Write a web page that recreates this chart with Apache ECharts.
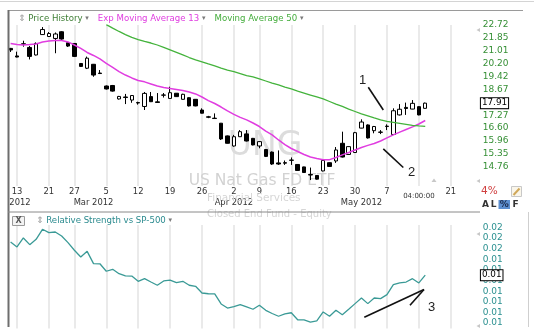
<!DOCTYPE html>
<html><head><meta charset="utf-8">
<script src="https://cdn.jsdelivr.net/npm/echarts@6/dist/echarts.min.js"></script>
<style>html,body{margin:0;padding:0;background:#fff}#chart{width:534px;height:335px}</style>
</head><body><div id="chart"></div><script>
// ---- categories (trading days shown on the axis) ----
const categories = [
'2012-02-09','2012-02-10','2012-02-13','2012-02-14','2012-02-15','2012-02-16','2012-02-17','2012-02-21','2012-02-22','2012-02-23','2012-02-24','2012-02-27','2012-02-28','2012-02-29',
'2012-03-01','2012-03-02','2012-03-05','2012-03-06','2012-03-07','2012-03-08','2012-03-09','2012-03-12','2012-03-13','2012-03-14','2012-03-15','2012-03-16','2012-03-19','2012-03-20','2012-03-21','2012-03-22','2012-03-23','2012-03-26','2012-03-27','2012-03-28','2012-03-29','2012-03-30',
'2012-04-02','2012-04-03','2012-04-04','2012-04-05','2012-04-09','2012-04-10','2012-04-11','2012-04-12','2012-04-13','2012-04-16','2012-04-17','2012-04-18','2012-04-19','2012-04-20','2012-04-23','2012-04-24','2012-04-25','2012-04-26','2012-04-27','2012-04-30',
'2012-05-01','2012-05-02','2012-05-03','2012-05-04','2012-05-07','2012-05-08','2012-05-09','2012-05-10','2012-05-11','2012-05-14','2012-05-15','2012-05-16','2012-05-17','2012-05-18','2012-05-21','2012-05-22','2012-05-23','2012-05-24'];

// ---- tick labels ----
const weekTicks  = ['2012-02-13','2012-02-21','2012-02-27','2012-03-05','2012-03-12','2012-03-19','2012-03-26','2012-04-02','2012-04-09','2012-04-16','2012-04-23','2012-04-30','2012-05-07','2012-05-14','2012-05-21'];
const weekLabels = ['13','21','27','5','12','19','26','2','9','16','23','30','7','04:00:00','21'];
const monthTicks  = ['2012-02-13','2012-03-01','2012-04-02','2012-05-01'];
const monthLabels = ['2012','Mar 2012','Apr 2012','May 2012'];
const priceTickLabels = ['14.76','15.35','15.96','16.60','17.27','17.95','18.67','19.42','20.20','21.01','21.85','22.72'];

// ---- price series (Feb 10 .. May 15, 2012) ----
const openP  = [21.16,20.68,21.46,21.22,20.74,22.07,21.94,21.81,22.26,21.53, 21.48,20.21,19.92,20.16,19.63,18.87,18.90,18.14,18.25,18.08, 17.94,17.73,18.27,17.98,18.35,18.17,18.46,18.12,18.21,18.12, 17.54,17.18,17.11,16.85,16.21,15.72,16.17,16.31,16.09,15.72, 15.55,15.43,14.93,14.94,15.06,14.86,14.75,14.41,14.37,14.57, 14.94,15.02,15.85,15.32,15.41,16.60,16.76,16.47,16.40,16.68, 16.28,17.28,17.68,17.59,17.72,17.63];
const closeP = [21.06,20.61,21.43,20.65,21.48,22.41,22.14,22.11,21.77,21.31, 20.65,20.03,20.54,19.51,19.60,18.70,18.58,18.28,18.22,18.33, 17.92,18.45,17.99,17.95,18.36,18.49,18.27,18.40,17.76,17.76, 17.37,17.16,17.09,16.06,15.85,16.17,16.42,15.96,15.77,15.93, 15.23,14.88,14.88,14.92,15.05,14.59,14.50,14.39,14.21,15.04, 14.77,15.53,15.20,15.69,16.37,16.91,16.11,16.68,16.39,16.70, 17.50,17.58,17.62,17.90,17.28,17.91];
const lowP   = [20.93,20.59,21.27,20.46,20.71,22.04,21.91,20.85,21.71,21.25, 20.61,20.00,19.87,19.41,19.57,18.67,18.55,18.11,17.86,17.93, 17.83,17.54,17.97,17.94,18.22,18.14,18.25,18.11,17.73,17.74, 17.36,17.11,17.07,16.01,15.84,15.69,16.16,15.94,15.75,15.61, 15.20,14.84,14.84,14.84,14.84,14.57,14.48,14.17,14.19,14.55, 14.75,14.93,15.18,15.30,15.39,16.59,16.08,16.34,16.30,16.50, 16.26,17.25,17.28,17.58,17.26,17.62];
const highP  = [21.19,20.95,21.66,21.32,21.55,22.58,22.24,22.21,22.30,21.58, 21.51,20.24,20.64,20.18,19.81,18.90,18.93,18.31,18.42,18.36, 17.99,18.53,18.53,18.47,18.47,18.83,18.47,18.43,18.23,18.13, 17.63,17.23,17.36,16.86,16.23,16.26,16.50,16.50,16.11,15.95, 15.58,15.46,15.51,15.04,15.18,14.88,14.76,14.72,14.39,15.06, 14.95,15.67,16.42,15.70,16.41,17.05,16.79,16.71,16.50,16.79, 17.63,17.86,17.94,18.08,17.74,17.94];
const ema13  = [21.48,21.41,21.38,21.41,21.45,21.58,21.64,21.68,21.68,21.58, 21.38,21.16,20.90,20.71,20.49,20.21,19.97,19.72,19.51,19.34, 19.19,19.11,18.99,18.87,18.78,18.73,18.67,18.61,18.53,18.42, 18.25,18.05,17.89,17.70,17.49,17.31,17.15,17.02,16.86,16.68, 16.45,16.26,16.01,15.79,15.60,15.46,15.32,15.20,15.13,15.08, 15.08,15.18,15.30,15.41,15.53,15.65,15.75,15.84,15.96,16.11, 16.26,16.40,16.53,16.66,16.81,16.99];
const ma50   = [null,null,null,null,null,null,null,null,null,null, null,null,null,null,null,22.75,22.51,22.28,22.07,21.88, 21.74,21.61,21.51,21.38,21.22,21.06,20.90,20.74,20.58,20.43, 20.31,20.18,20.06,19.93,19.81,19.72,19.60,19.48,19.40,19.28, 19.16,19.04,18.93,18.81,18.70,18.58,18.47,18.36,18.25,18.14, 18.00,17.86,17.73,17.59,17.46,17.33,17.23,17.12,17.02,16.94, 16.89,16.84,16.79,16.74,16.71,16.69];
const relStrength = [0.01584,0.01551,0.01610,0.01566,0.01601,0.01667,0.01645,0.01649,0.01623,0.01579, 0.01529,0.01485,0.01522,0.01441,0.01440,0.01391,0.01404,0.01375,0.01360,0.01359, 0.01325,0.01342,0.01320,0.01299,0.01327,0.01332,0.01316,0.01325,0.01299,0.01292, 0.01248,0.01243,0.01242,0.01176,0.01149,0.01159,0.01171,0.01156,0.01141,0.01167, 0.01134,0.01113,0.01095,0.01110,0.01118,0.01072,0.01071,0.01057,0.01064,0.01123, 0.01095,0.01134,0.01105,0.01141,0.01178,0.01215,0.01178,0.01215,0.01211,0.01237, 0.01303,0.01314,0.01320,0.01342,0.01314,0.01365];

// ---- log price scale: axis value = steps of 4% above the first tick ----
const BASE = 14.76, STEP = 1.04;
const k = p => (p == null ? '-' : Math.log(p / BASE) / Math.log(STEP));
const tradeDates = categories.slice(1, 1 + closeP.length);
const candleData = tradeDates.map((d, i) => [d, k(openP[i]), k(closeP[i]), k(lowP[i]), k(highP[i])]);
const lineData = arr => tradeDates.map((d, i) => [d, k(arr[i])]);
const rsData = tradeDates.map((d, i) => [d, relStrength[i]]);
const lastClose = closeP[closeP.length - 1];
const lastRS = relStrength[relStrength.length - 1];

const weekSet = new Set(weekTicks);
const FONT = 'DejaVu Sans';
const RS_STEP = 0.0007;

const chart = echarts.init(document.getElementById('chart'), null, {renderer: 'canvas'});
const splitLine = {show: true, interval: (i, v) => weekSet.has(v), lineStyle: {color: '#e3e3e3', width: 1.5}};
const boxLabel = txt => ({show: true, position: 'end', distance: 11, formatter: () => txt, color: '#000', fontSize: 8.8, fontFamily: FONT,
  backgroundColor: '#fff', borderColor: '#000', borderWidth: 1, padding: [1, 1, 0, 1], opacity: 1});
const hiddenLine = {color: 'rgba(0,0,0,0)', width: 0, opacity: 1};

chart.setOption({
  animation: false,
  backgroundColor: '#fff',
  textStyle: {fontFamily: FONT},
  legend: [
    {left: 12, top: 14, padding: 0, itemWidth: 0, itemHeight: 0, itemGap: 4, selectedMode: false, icon: 'rect',
     data: [{name: 'Price History', textStyle: {color: '#3f7f36'}},
            {name: 'Exp Moving Average 13', textStyle: {color: '#e03de0'}},
            {name: 'Moving Average 50', textStyle: {color: '#44ad3c'}}],
     formatter: n => (n === 'Price History' ? '{ic|⇕} ' : '') + n + ' {tri|▾}',
     textStyle: {fontSize: 8.6, fontFamily: FONT, rich: {ic: {color: '#9a9a9a', fontSize: 9}, tri: {color: '#7a7a7a', fontSize: 7}}}},
    {left: 31, top: 216, padding: 0, itemWidth: 0, itemHeight: 0, selectedMode: false, icon: 'rect',
     data: [{name: 'Relative Strength vs SP-500', textStyle: {color: '#2a8a8e'}}],
     formatter: n => '{ic|⇕} ' + n + ' {tri|▾}',
     textStyle: {fontSize: 8.6, fontFamily: FONT, rich: {ic: {color: '#9a9a9a', fontSize: 9}, tri: {color: '#7a7a7a', fontSize: 7}}}}
  ],
  grid: [
    {left: 4.22, right: 64.1, top: 25, height: 161, containLabel: false, outerBoundsMode: 'none'},
    {left: 4.22, right: 64.1, top: 225.02, height: 103.4, containLabel: false, outerBoundsMode: 'none'}
  ],
  xAxis: [
    {type: 'category', gridIndex: 0, data: categories, boundaryGap: false,
     axisLine: {show: false}, axisTick: {show: false}, splitLine: splitLine,
     axisLabel: {interval: (i, v) => weekSet.has(v), margin: 2, fontSize: 8.4, color: '#333', fontFamily: FONT,
       formatter: v => { const j = weekTicks.indexOf(v); const t = weekLabels[j]; return t.indexOf(':') >= 0 ? '{t|' + t + '}' : t; },
       rich: {t: {fontSize: 7, color: '#333', fontFamily: FONT, padding: [5, 0, 0, 0]}}}},
    {type: 'category', gridIndex: 0, data: categories, boundaryGap: false, position: 'bottom', offset: 11,
     axisLine: {show: false}, axisTick: {show: false}, splitLine: {show: false},
     axisLabel: {interval: (i, v) => monthTicks.indexOf(v) >= 0, margin: 2, fontSize: 8.4, color: '#333', fontFamily: FONT,
       formatter: v => { const j = monthTicks.indexOf(v); return j === 0 ? '{y|' + monthLabels[j] + '}' : monthLabels[j]; },
       rich: {y: {fontSize: 8.4, color: '#333', fontFamily: FONT, padding: [0, 0, 0, 6]}}}},
    {type: 'category', gridIndex: 1, data: categories, boundaryGap: false,
     axisLine: {show: false}, axisTick: {show: false}, axisLabel: {show: false}, splitLine: splitLine}
  ],
  yAxis: [
    {type: 'value', gridIndex: 0, position: 'right', min: -1.5, max: 11, interval: 0.5, scale: true,
     axisLine: {show: false}, axisTick: {show: false}, splitLine: {show: false},
     axisLabel: {margin: 12.8, fontSize: 9, color: '#358f35', fontFamily: FONT,
       formatter: v => { const r = Math.round(v); return (Math.abs(v - r) < 1e-6 && r >= 0 && r < priceTickLabels.length) ? priceTickLabels[r] : ''; }}},
    {type: 'value', gridIndex: 1, position: 'right', min: 0.01015, max: 0.01695, interval: 0.00035, scale: true,
     axisLine: {show: false}, axisTick: {show: false}, splitLine: {show: false},
     axisLabel: {margin: 12.8, fontSize: 9, color: '#2b9090', fontFamily: FONT,
       formatter: v => { const q = v / RS_STEP; return Math.abs(q - Math.round(q)) < 1e-4 ? v.toFixed(2) : ''; }}}
  ],
  series: [
    {name: 'Price History', type: 'candlestick', xAxisIndex: 0, yAxisIndex: 0, z: 3, barWidth: 4,
     encode: {x: 0, y: [1, 2, 3, 4]}, data: candleData,
     itemStyle: {color: '#ffffff', color0: '#000000', borderColor: '#000000', borderColor0: '#000000', borderWidth: 1},
     markLine: {silent: true, symbol: 'none', animation: false, z: 10, precision: 8, lineStyle: hiddenLine,
       label: boxLabel(lastClose.toFixed(2)), data: [{yAxis: k(lastClose)}]}},
    {name: 'Exp Moving Average 13', type: 'line', xAxisIndex: 0, yAxisIndex: 0, z: 4, data: lineData(ema13),
     showSymbol: false, symbol: 'none', lineStyle: {color: '#e03de0', width: 1.5}, itemStyle: {color: '#e03de0'}},
    {name: 'Moving Average 50', type: 'line', xAxisIndex: 0, yAxisIndex: 0, z: 4, data: lineData(ma50),
     showSymbol: false, symbol: 'none', lineStyle: {color: '#44b33c', width: 1.3}, itemStyle: {color: '#44b33c'}},
    {name: 'Relative Strength vs SP-500', type: 'line', xAxisIndex: 2, yAxisIndex: 1, z: 4, data: rsData, clip: false,
     showSymbol: false, symbol: 'none', lineStyle: {color: '#3a9a96', width: 1.3}, itemStyle: {color: '#3a9a96'},
     markLine: {silent: true, symbol: 'none', animation: false, z: 10, precision: 8, lineStyle: hiddenLine,
       label: boxLabel(lastRS.toFixed(2)), data: [{yAxis: lastRS}]}}
  ],
  graphic: [
    // watermark
    {type: 'text', z: 1, silent: true, x: 265, y: 146, style: {text: 'UNG', fontSize: 33, fontFamily: FONT, fill: '#dcdcdc', align: 'center', verticalAlign: 'middle'}},
    {type: 'text', z: 1, silent: true, x: 262, y: 181, style: {text: 'US Nat Gas FD ETF', fontSize: 15.5, fontFamily: FONT, fill: '#d2d2d2', align: 'center', verticalAlign: 'middle'}},
    {type: 'text', z: 1, silent: true, x: 207, y: 198, style: {text: 'Financial Services', fontSize: 10.5, fontFamily: FONT, fill: '#d6d6d6', align: 'left', verticalAlign: 'middle'}},
    {type: 'text', z: 1, silent: true, x: 207, y: 214.5, style: {text: 'Closed End Fund - Equity', fontSize: 10, fontFamily: FONT, fill: '#d6d6d6', align: 'left', verticalAlign: 'middle'}},
    // frame
    {type: 'line', z: 50, silent: true, shape: {x1: 0, y1: 1.5, x2: 534, y2: 1.5}, style: {stroke: '#d4d4d4', lineWidth: 1}},
    {type: 'line', z: 50, silent: true, shape: {x1: 8, y1: 10.5, x2: 523, y2: 10.5}, style: {stroke: '#9a9a9a', lineWidth: 1}},
    {type: 'line', z: 50, silent: true, shape: {x1: 8.5, y1: 10, x2: 8.5, y2: 327}, style: {stroke: '#6e6e6e', lineWidth: 2}},
    {type: 'line', z: 50, silent: true, shape: {x1: 8, y1: 212, x2: 480, y2: 212}, style: {stroke: '#8a8a8a', lineWidth: 1}},
    {type: 'line', z: 50, silent: true, shape: {x1: 528.5, y1: 212, x2: 528.5, y2: 327}, style: {stroke: '#cfcfcf', lineWidth: 1}},
    // small scroll triangles
    {type: 'polygon', z: 50, silent: true, shape: {points: [[480, 28], [480, 32], [476.5, 30]]}, style: {fill: '#c8c8c8'}},
    {type: 'polygon', z: 50, silent: true, shape: {points: [[431.5, 182], [436.5, 182], [434, 178.5]]}, style: {fill: '#c8c8c8'}},
    {type: 'polygon', z: 50, silent: true, shape: {points: [[480, 179], [480, 183], [476.5, 181]]}, style: {fill: '#c8c8c8'}},
    {type: 'polygon', z: 50, silent: true, shape: {points: [[480, 232], [480, 236], [476.5, 234]]}, style: {fill: '#c8c8c8'}},
    {type: 'polygon', z: 50, silent: true, shape: {points: [[480, 324], [480, 328], [476.5, 326]]}, style: {fill: '#c8c8c8'}},
    // lower panel close box
    {type: 'rect', z: 50, silent: true, shape: {x: 12.5, y: 216.5, width: 12, height: 9}, style: {fill: '#f3f3f3', stroke: '#9a9a9a', lineWidth: 1}},
    {type: 'text', z: 51, silent: true, x: 18.5, y: 221.2, style: {text: 'X', fontSize: 8, fontWeight: 'bold', fontFamily: FONT, fill: '#555', align: 'center', verticalAlign: 'middle'}},
    // right-side controls
    {type: 'text', z: 50, silent: true, x: 481, y: 191, style: {text: '4%', fontSize: 10.5, fontFamily: FONT, fill: '#d04040', align: 'left', verticalAlign: 'middle'}},
    {type: 'rect', z: 50, silent: true, shape: {x: 511.5, y: 186.5, width: 10, height: 10}, style: {fill: '#faf6ea', stroke: '#c8c8c8', lineWidth: 1}},
    {type: 'line', z: 51, silent: true, shape: {x1: 513.5, y1: 195, x2: 519.5, y2: 188.5}, style: {stroke: '#d0a85a', lineWidth: 2}},
    {type: 'text', z: 50, silent: true, x: 485.5, y: 204.5, style: {text: 'A', fontSize: 9, fontWeight: 'bold', fontFamily: FONT, fill: '#333', align: 'center', verticalAlign: 'middle'}},
    {type: 'text', z: 50, silent: true, x: 493.5, y: 204.5, style: {text: 'L', fontSize: 9, fontWeight: 'bold', fontFamily: FONT, fill: '#333', align: 'center', verticalAlign: 'middle'}},
    {type: 'rect', z: 50, silent: true, shape: {x: 498.5, y: 200, width: 11.5, height: 9}, style: {fill: '#5d8fd0'}},
    {type: 'text', z: 51, silent: true, x: 504.2, y: 204.5, style: {text: '%', fontSize: 9, fontWeight: 'bold', fontFamily: FONT, fill: '#1a2a4a', align: 'center', verticalAlign: 'middle'}},
    {type: 'text', z: 50, silent: true, x: 515.5, y: 204.5, style: {text: 'F', fontSize: 9, fontWeight: 'bold', fontFamily: FONT, fill: '#333', align: 'center', verticalAlign: 'middle'}},
    // annotations
    {type: 'text', z: 60, silent: true, x: 362.5, y: 80.5, style: {text: '1', fontSize: 13, fontFamily: 'Liberation Sans', fill: '#222', align: 'center', verticalAlign: 'middle'}},
    {type: 'line', z: 60, silent: true, shape: {x1: 368.3, y1: 87.3, x2: 383.3, y2: 110}, style: {stroke: '#111', lineWidth: 1.6}},
    {type: 'text', z: 60, silent: true, x: 411.5, y: 172.5, style: {text: '2', fontSize: 13, fontFamily: 'Liberation Sans', fill: '#222', align: 'center', verticalAlign: 'middle'}},
    {type: 'line', z: 60, silent: true, shape: {x1: 383.3, y1: 148.8, x2: 403.3, y2: 167.5}, style: {stroke: '#111', lineWidth: 1.6}},
    {type: 'text', z: 60, silent: true, x: 431.5, y: 307.5, style: {text: '3', fontSize: 13, fontFamily: 'Liberation Sans', fill: '#222', align: 'center', verticalAlign: 'middle'}},
    {type: 'line', z: 60, silent: true, shape: {x1: 364.3, y1: 317.2, x2: 424, y2: 289.5}, style: {stroke: '#111', lineWidth: 1.6}},
    {type: 'line', z: 60, silent: true, shape: {x1: 410, y1: 305.3, x2: 424, y2: 289.5}, style: {stroke: '#111', lineWidth: 1.6}}
  ]
});
</script></body></html>
